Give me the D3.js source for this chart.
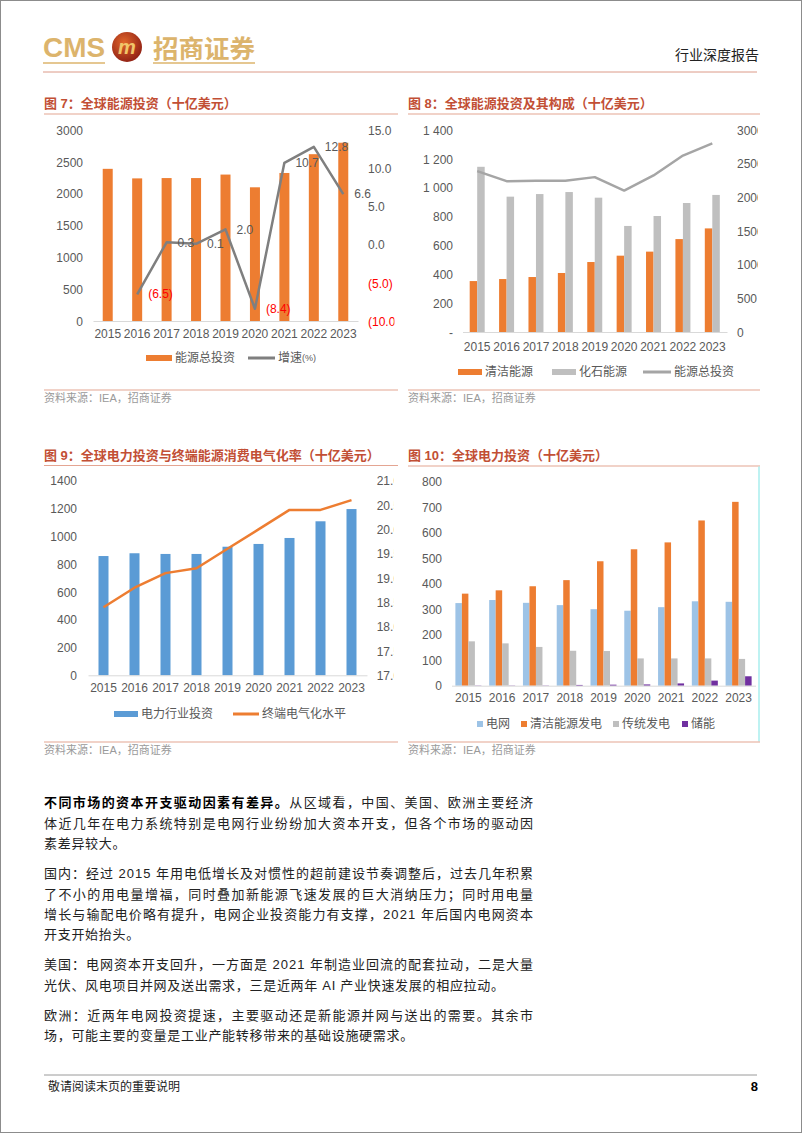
<!DOCTYPE html>
<html>
<head>
<meta charset="utf-8">
<title>行业深度报告</title>
<script src="https://d3js.org/d3.v7.min.js"></script>
<style>
  body { margin: 0; background: #fff; }
  svg text { font-family: "Liberation Sans", "Noto Sans CJK SC", sans-serif; }
</style>
</head>
<body>
<script>
// ---- data ----
const years = ["2015", "2016", "2017", "2018", "2019", "2020", "2021", "2022", "2023"];

// fig 7
const totalInvest = [2390, 2240, 2245, 2245, 2300, 2100, 2325, 2620, 2800];
const growthRate = [null, -6.5, 0.3, 0.1, 2.0, -8.4, 10.7, 12.8, 6.6];
const ticks7Left = [0, 500, 1000, 1500, 2000, 2500, 3000];
const ticks7Right = [-10, -5, 0, 5, 10, 15];

// fig 8
const cleanEnergy = [353, 367, 381, 409, 485, 529, 557, 644, 718];
const fossilEnergy = [1145, 938, 956, 970, 931, 735, 804, 894, 950];
const ticks8Left = [0, 200, 400, 600, 800, 1000, 1200, 1400];
const ticks8Right = [0, 500, 1000, 1500, 2000, 2500, 3000];

// fig 9
const powerInvest = [858, 878, 873, 873, 925, 945, 988, 1108, 1196];
const electrification = [18.4, 18.8, 19.1, 19.2, 19.6, 20.0, 20.4, 20.4, 20.6];
const ticks9Left = [0, 200, 400, 600, 800, 1000, 1200, 1400];
const ticks9Right = [17, 17.5, 18, 18.5, 19, 19.5, 20, 20.5, 21];

// fig 10
const gridInvest = [324, 336, 325, 316, 300, 294, 308, 331, 329];
const cleanPower = [361, 374, 390, 414, 488, 535, 562, 648, 721];
const thermalPower = [174, 166, 152, 137, 136, 107, 107, 107, 105];
const storage = [1, 1, 1, 3, 4, 5, 9, 20, 37];
const ticks10 = [0, 100, 200, 300, 400, 500, 600, 700, 800];

const source = "资料来源：IEA，招商证券";

const paragraphs = [
  ["从区域看，中国、美国、欧洲主要经济",
   "体近几年在电力系统特别是电网行业纷纷加大资本开支，但各个市场的驱动因",
   "素差异较大。"],
  ["国内：经过 2015 年用电低增长及对惯性的超前建设节奏调整后，过去几年积累",
   "了不小的用电量增福，同时叠加新能源飞速发展的巨大消纳压力；同时用电量",
   "增长与输配电价略有提升，电网企业投资能力有支撑，2021 年后国内电网资本",
   "开支开始抬头。"],
  ["美国：电网资本开支回升，一方面是 2021 年制造业回流的配套拉动，二是大量",
   "光伏、风电项目并网及送出需求，三是近两年 AI 产业快速发展的相应拉动。"],
  ["欧洲：近两年电网投资提速，主要驱动还是新能源并网与送出的需要。其余市",
   "场，可能主要的变量是工业产能转移带来的基础设施硬需求。"]
];
const boldLead = "不同市场的资本开支驱动因素有差异。";

// ---- colours ----
const orange = "#ed7d31";
const tickGray = "#595959";
const titleRed = "#c24f35";
const ruleRed = "#e4a592";
const gold = "#dcb46c";

const svg = d3.select("body").append("svg")
  .attr("width", 802)
  .attr("height", 1133);

svg.append("rect")
  .attr("x", 0.5).attr("y", 0.5)
  .attr("width", 801).attr("height", 1132)
  .attr("fill", "#fff")
  .attr("stroke", "#8c8c8c");

// ---- header ----
svg.append("text")
  .attr("x", 43).attr("y", 57)
  .attr("textLength", 62)
  .attr("lengthAdjust", "spacingAndGlyphs")
  .style("font-size", "28px")
  .style("font-weight", "bold")
  .attr("fill", gold)
  .text("CMS");

const logoGrad = svg.append("defs").append("radialGradient")
  .attr("id", "logoGrad").attr("cx", "40%").attr("cy", "35%").attr("r", "70%");
logoGrad.append("stop").attr("offset", "0%").attr("stop-color", "#e0652a");
logoGrad.append("stop").attr("offset", "100%").attr("stop-color", "#8e1f14");

svg.append("circle")
  .attr("cx", 127).attr("cy", 47).attr("r", 15)
  .attr("fill", "url(#logoGrad)");
svg.append("text")
  .attr("x", 127).attr("y", 54)
  .attr("text-anchor", "middle")
  .style("font-size", "20px")
  .style("font-style", "italic")
  .style("font-weight", "bold")
  .attr("fill", "#f1c66a")
  .text("m");

svg.append("text")
  .attr("x", 153).attr("y", 58)
  .attr("textLength", 102)
  .attr("lengthAdjust", "spacingAndGlyphs")
  .style("font-size", "25px")
  .style("font-weight", "bold")
  .attr("fill", gold)
  .text("招商证券");

svg.append("line").attr("x1", 43).attr("x2", 105).attr("y1", 63).attr("y2", 63)
  .attr("stroke", gold).attr("stroke-width", 1.5);
svg.append("line").attr("x1", 153).attr("x2", 255).attr("y1", 63).attr("y2", 63)
  .attr("stroke", gold).attr("stroke-width", 1.5);

svg.append("text")
  .attr("x", 759).attr("y", 60)
  .attr("text-anchor", "end")
  .style("font-size", "14px")
  .attr("fill", "#222")
  .text("行业深度报告");

svg.append("line").attr("x1", 43).attr("x2", 757).attr("y1", 72).attr("y2", 72)
  .attr("stroke", "#dc9a88").attr("stroke-width", 1);

// ---- helpers ----
function figTitle(x, y, x2, lineY, txt) {
  svg.append("text")
    .attr("x", x).attr("y", y)
    .style("font-size", "13px")
    .style("font-weight", "bold")
    .attr("fill", titleRed)
    .text(txt);
  svg.append("line")
    .attr("x1", x).attr("x2", x2)
    .attr("y1", lineY).attr("y2", lineY)
    .attr("stroke", ruleRed).attr("stroke-width", 1.2);
}

function figSource(x, x2, lineY) {
  svg.append("line")
    .attr("x1", x).attr("x2", x2)
    .attr("y1", lineY).attr("y2", lineY)
    .attr("stroke", ruleRed).attr("stroke-width", 1.2);
  svg.append("text")
    .attr("x", x).attr("y", lineY + 12)
    .style("font-size", "11px")
    .attr("fill", "#9a9a9a")
    .text(source);
}

function clipFor(id, x, y, w, h) {
  svg.select("defs").append("clipPath").attr("id", id)
    .append("rect").attr("x", x).attr("y", y).attr("width", w).attr("height", h);
}

// y axis labels only (no lines), via d3 axes
function yLabels(g, axisFn, scale, ticks, fmt, x) {
  const a = g.append("g")
    .attr("transform", "translate(" + x + ",0)")
    .call(axisFn(scale).tickValues(ticks).tickSize(0).tickPadding(0).tickFormat(fmt));
  a.select(".domain").remove();
  a.selectAll("text")
    .style("font-size", "12px")
    .attr("fill", tickGray)
    .attr("dy", "0.35em");
  return a;
}

function xLabels(g, scale, y, labelY) {
  const a = g.append("g")
    .attr("transform", "translate(0," + y + ")")
    .call(d3.axisBottom(scale).tickSize(0).tickPadding(0));
  a.select(".domain").attr("stroke", "#d9d9d9");
  a.selectAll("text")
    .style("font-size", "12px")
    .attr("fill", tickGray)
    .attr("y", labelY - y)
    .attr("dy", "0.35em");
  return a;
}

function legendRect(g, x, y, w, h, color, label) {
  g.append("rect").attr("x", x).attr("y", y - h / 2).attr("width", w).attr("height", h).attr("fill", color);
  g.append("text").attr("x", x + w + 3).attr("y", y).attr("dy", "0.35em")
    .style("font-size", "12px").attr("fill", tickGray).text(label);
}

function legendLine(g, x, y, w, color, label) {
  g.append("line").attr("x1", x).attr("x2", x + w).attr("y1", y).attr("y2", y)
    .attr("stroke", color).attr("stroke-width", 3);
  g.append("text").attr("x", x + w + 3).attr("y", y).attr("dy", "0.35em")
    .style("font-size", "12px").attr("fill", tickGray).text(label);
}

const rows = years.map((y, i) => ({ year: y, i: i }));

// ---- fig 7 ----
figTitle(44, 108, 398, 114, "图 7：全球能源投资（十亿美元）");
clipFor("clip7", 40, 115, 354.5, 270);
const g7 = svg.append("g").attr("clip-path", "url(#clip7)");

const x7 = d3.scaleBand().domain(years).range([93, 358]);
const y7 = d3.scaleLinear().domain([0, 3000]).range([321, 130]);
const y7r = d3.scaleLinear().domain([-10, 15]).range([321, 130]);

g7.selectAll(".bar7")
  .data(rows)
  .enter()
  .append("rect")
  .attr("x", d => x7(d.year) + x7.bandwidth() / 2 - 5)
  .attr("y", d => y7(totalInvest[d.i]))
  .attr("width", 10)
  .attr("height", d => y7(0) - y7(totalInvest[d.i]))
  .attr("fill", orange);

xLabels(g7, x7, 321, 334);
yLabels(g7, d3.axisLeft, y7, ticks7Left, d => d, 83);
const r7 = yLabels(g7, d3.axisRight, y7r, ticks7Right,
  d => d < 0 ? "(" + d3.format(".1f")(-d) + ")" : d3.format(".1f")(d), 368);
r7.selectAll("text").attr("fill", d => d < 0 ? "#ff0000" : tickGray);

const growthPts = rows.filter(d => growthRate[d.i] !== null);
const line7 = d3.line()
  .x(d => x7(d.year) + x7.bandwidth() / 2)
  .y(d => y7r(growthRate[d.i]));
g7.append("path")
  .datum(growthPts)
  .attr("d", line7)
  .attr("fill", "none")
  .attr("stroke", "#7f7f7f")
  .attr("stroke-width", 2.5)
  .attr("stroke-linejoin", "round");

g7.selectAll(".lbl7")
  .data(growthPts)
  .enter()
  .append("text")
  .attr("x", d => x7(d.year) + x7.bandwidth() / 2 + 11)
  .attr("y", d => y7r(growthRate[d.i]))
  .attr("dy", "0.35em")
  .style("font-size", "12px")
  .attr("fill", d => growthRate[d.i] < 0 ? "#ff0000" : tickGray)
  .text(d => growthRate[d.i] < 0 ? "(" + d3.format(".1f")(-growthRate[d.i]) + ")" : d3.format(".1f")(growthRate[d.i]));

legendRect(g7, 146, 358, 26, 6, orange, "能源总投资");
legendLine(g7, 248, 358, 27, "#7f7f7f", "增速");
g7.append("text").attr("x", 302).attr("y", 358).attr("dy", "0.35em")
  .style("font-size", "9px").attr("fill", tickGray).text("(%)");

figSource(44, 398, 390);

// ---- fig 8 ----
figTitle(408, 108, 760, 114, "图 8：全球能源投资及其构成（十亿美元）");
clipFor("clip8", 400, 115, 358, 270);
const g8 = svg.append("g").attr("clip-path", "url(#clip8)");

const x8 = d3.scaleBand().domain(years).range([462.5, 727]);
const y8 = d3.scaleLinear().domain([0, 1400]).range([332, 130]);
const y8r = d3.scaleLinear().domain([0, 3000]).range([332, 130]);
const inner8 = d3.scaleBand().domain(["clean", "fossil"]).range([0, 15]);

const series8 = [
  { key: "clean", values: cleanEnergy, color: orange },
  { key: "fossil", values: fossilEnergy, color: "#bfbfbf" }
];
series8.forEach(s => {
  g8.selectAll(".bar8-" + s.key)
    .data(rows)
    .enter()
    .append("rect")
    .attr("x", d => x8(d.year) + x8.bandwidth() / 2 - 7.5 + inner8(s.key))
    .attr("y", d => y8(s.values[d.i]))
    .attr("width", inner8.bandwidth())
    .attr("height", d => y8(0) - y8(s.values[d.i]))
    .attr("fill", s.color);
});

xLabels(g8, x8, 332, 346.5);
yLabels(g8, d3.axisLeft, y8, ticks8Left,
  d => d === 0 ? "-" : d3.format(",")(d).replace(",", " "), 453);
yLabels(g8, d3.axisRight, y8r, ticks8Right, d => d, 737);

g8.append("path")
  .datum(rows)
  .attr("d", d3.line()
    .x(d => x8(d.year) + x8.bandwidth() / 2)
    .y(d => y8r(totalInvest[d.i])))
  .attr("fill", "none")
  .attr("stroke", "#a5a5a5")
  .attr("stroke-width", 2.5)
  .attr("stroke-linejoin", "round");

legendRect(g8, 458, 372, 24, 6, orange, "清洁能源");
legendRect(g8, 552, 372, 24, 6, "#bfbfbf", "化石能源");
legendLine(g8, 643, 372, 28, "#a5a5a5", "能源总投资");

figSource(408, 760, 390);

// ---- fig 9 ----
figTitle(44, 460, 398, 465.5, "图 9：全球电力投资与终端能源消费电气化率（十亿美元）");
clipFor("clip9", 40, 467, 354, 270);
const g9 = svg.append("g").attr("clip-path", "url(#clip9)");

const x9 = d3.scaleBand().domain(years).range([88, 367]);
const y9 = d3.scaleLinear().domain([0, 1400]).range([675.3, 480.7]);
const y9r = d3.scaleLinear().domain([17, 21]).range([675.3, 480.7]);

g9.selectAll(".bar9")
  .data(rows)
  .enter()
  .append("rect")
  .attr("x", d => x9(d.year) + x9.bandwidth() / 2 - 5)
  .attr("y", d => y9(powerInvest[d.i]))
  .attr("width", 10)
  .attr("height", d => y9(0) - y9(powerInvest[d.i]))
  .attr("fill", "#5b9bd5");

xLabels(g9, x9, 675.3, 688);
yLabels(g9, d3.axisLeft, y9, ticks9Left, d => d, 77);
yLabels(g9, d3.axisRight, y9r, ticks9Right, d3.format(".1f"), 376.7);

g9.append("path")
  .datum(rows)
  .attr("d", d3.line()
    .x(d => x9(d.year) + x9.bandwidth() / 2)
    .y(d => y9r(electrification[d.i])))
  .attr("fill", "none")
  .attr("stroke", orange)
  .attr("stroke-width", 2.5)
  .attr("stroke-linejoin", "round");

legendRect(g9, 114, 714, 24, 6, "#5b9bd5", "电力行业投资");
legendLine(g9, 233, 714, 26, orange, "终端电气化水平");

figSource(44, 398, 742);

// ---- fig 10 ----
figTitle(408, 460, 760, 466, "图 10：全球电力投资（十亿美元）");
const g10 = svg.append("g");

g10.append("line")
  .attr("x1", 759).attr("x2", 759).attr("y1", 466.5).attr("y2", 741.5)
  .attr("stroke", "#a8eeee").attr("stroke-width", 1.5);

const x10 = d3.scaleBand().domain(years).range([451.5, 755.5]);
const y10 = d3.scaleLinear().domain([0, 800]).range([685.7, 481.7]);

const series10 = [
  { key: "grid", name: "电网", values: gridInvest, color: "#9dc3e6" },
  { key: "clean", name: "清洁能源发电", values: cleanPower, color: orange },
  { key: "thermal", name: "传统发电", values: thermalPower, color: "#bfbfbf" },
  { key: "storage", name: "储能", values: storage, color: "#7030a0" }
];
const inner10 = d3.scaleBand().domain(series10.map(s => s.key)).range([0, 26]);

series10.forEach(s => {
  g10.selectAll(".bar10-" + s.key)
    .data(rows)
    .enter()
    .append("rect")
    .attr("x", d => x10(d.year) + x10.bandwidth() / 2 - 13 + inner10(s.key))
    .attr("y", d => y10(s.values[d.i]))
    .attr("width", inner10.bandwidth())
    .attr("height", d => y10(0) - y10(s.values[d.i]))
    .attr("fill", s.color);
});

xLabels(g10, x10, 685.7, 698.3);
yLabels(g10, d3.axisLeft, y10, ticks10, d => d, 442);

const leg10x = [477, 521, 613, 682];
series10.forEach((s, k) => {
  legendRect(g10, leg10x[k], 724, 6, 6, s.color, s.name);
});

figSource(408, 760, 742);

// ---- body text ----
const lineH = 20.4;
const paraGap = 9.6;
let cy = 807.4;
paragraphs.forEach((lines, p) => {
  lines.forEach((ln, k) => {
    const full = k < lines.length - 1;
    const t = svg.append("text")
      .attr("x", 44).attr("y", cy)
      .style("font-size", "13px")
      .attr("fill", "#222");
    if (full) {
      t.attr("textLength", 489).attr("lengthAdjust", "spacing");
    } else {
      t.style("letter-spacing", "0.7px");
    }
    if (p === 0 && k === 0) {
      t.append("tspan").style("font-weight", "bold").attr("fill", "#000").text(boldLead);
      t.append("tspan").text(ln);
    } else {
      t.text(ln);
    }
    cy += lineH;
  });
  cy += paraGap;
});

// ---- footer ----
svg.append("line").attr("x1", 44).attr("x2", 757).attr("y1", 1075).attr("y2", 1075)
  .attr("stroke", "#9a9a9a").attr("stroke-width", 1);
svg.append("text")
  .attr("x", 48).attr("y", 1091)
  .style("font-size", "12px")
  .attr("fill", "#222")
  .text("敬请阅读末页的重要说明");
svg.append("text")
  .attr("x", 758).attr("y", 1091)
  .attr("text-anchor", "end")
  .style("font-size", "13px")
  .style("font-weight", "bold")
  .attr("fill", "#000")
  .text("8");
</script>
</body>
</html>
